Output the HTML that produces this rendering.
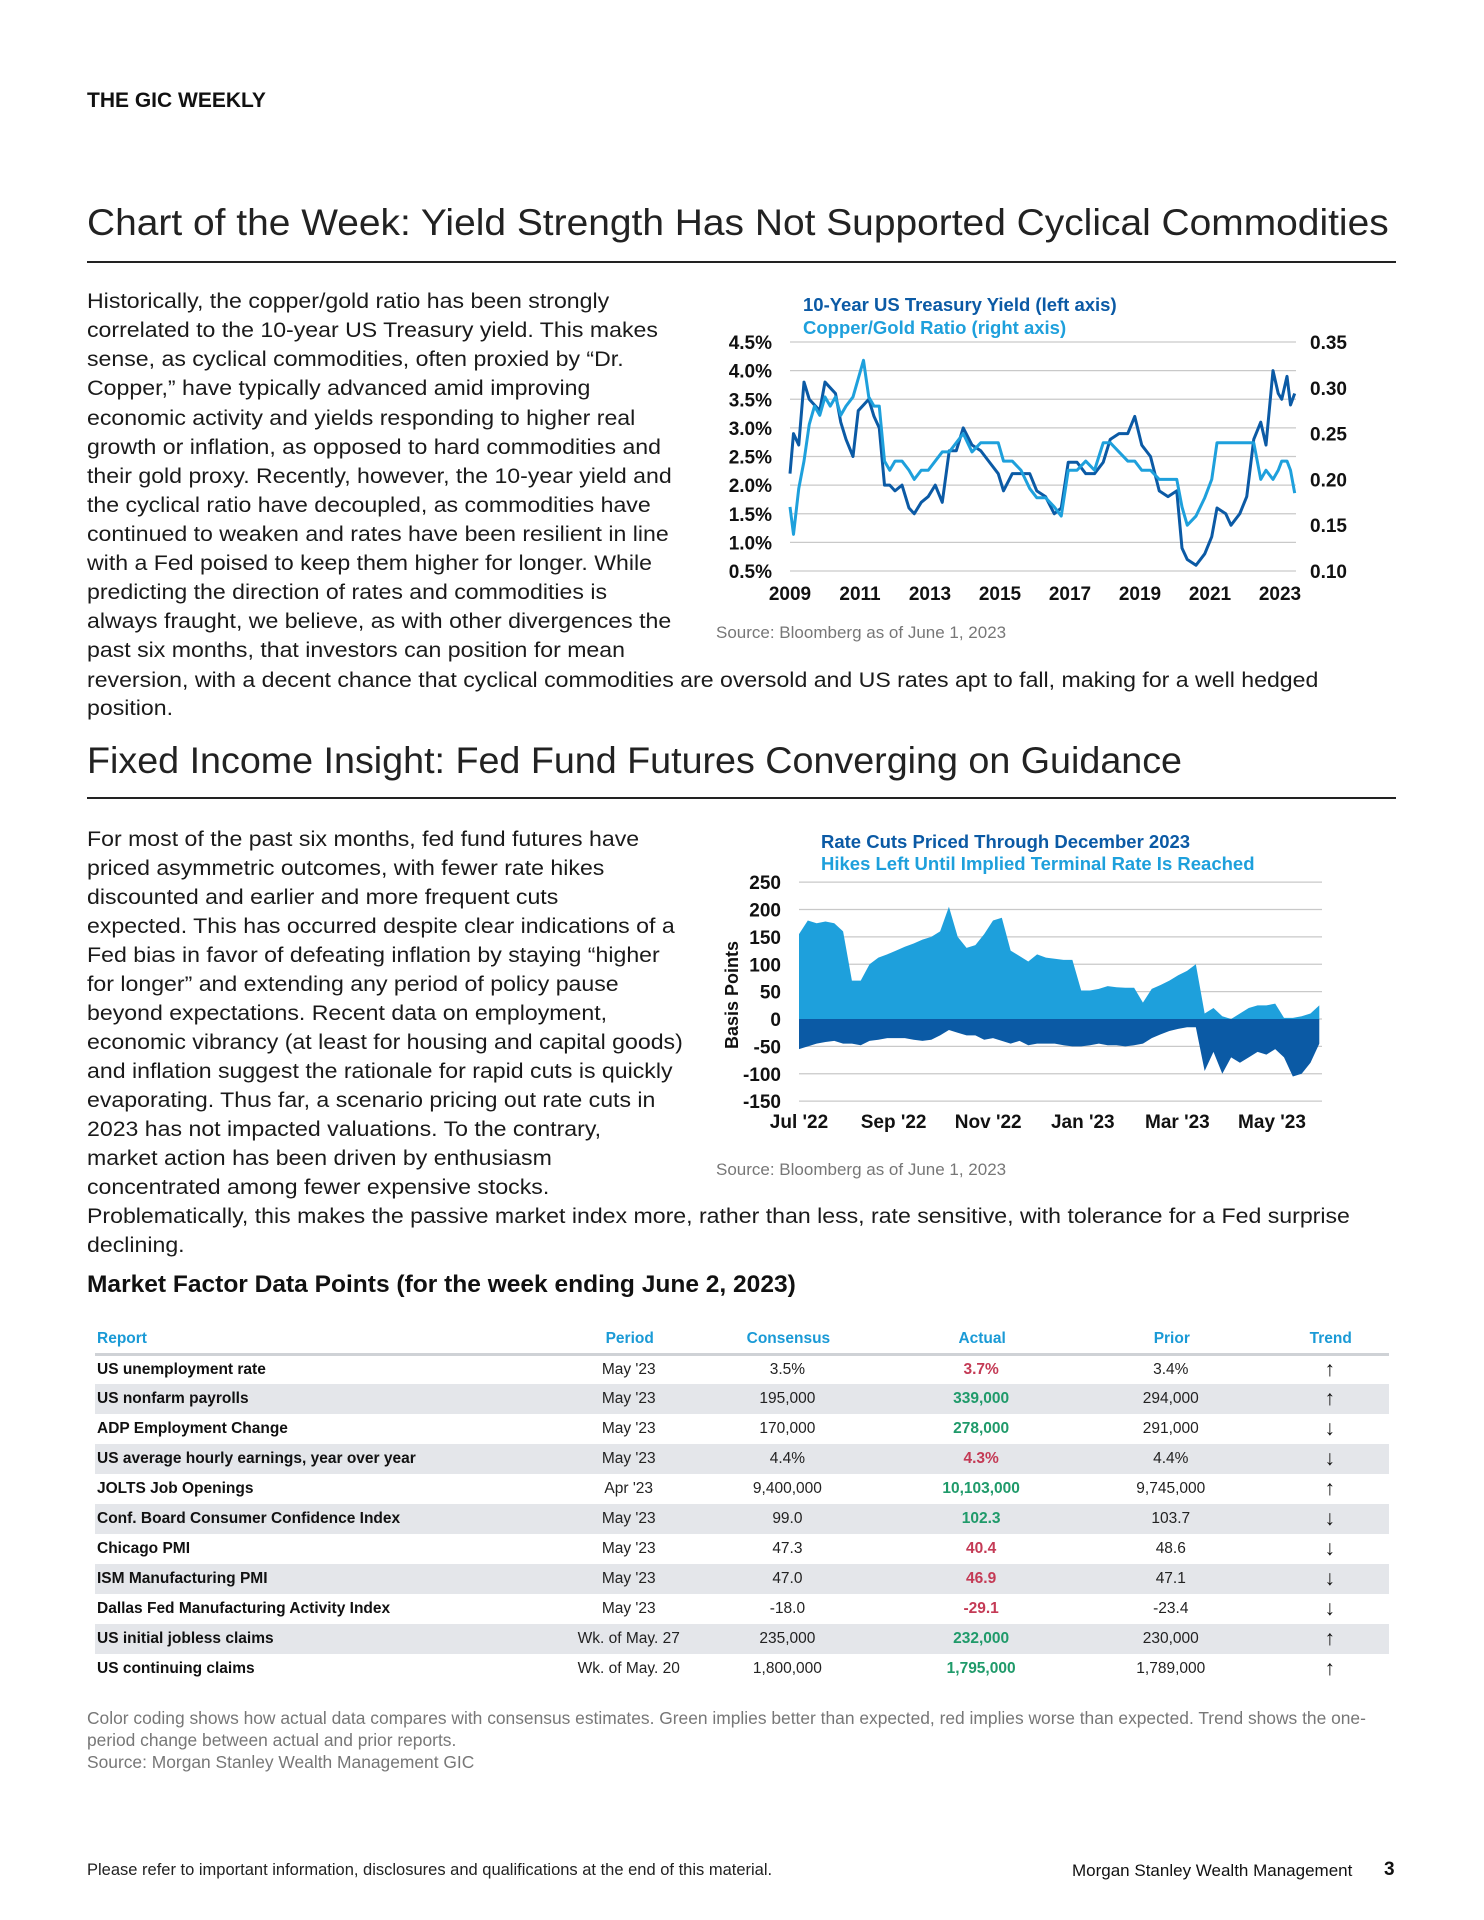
<!DOCTYPE html>
<html><head><meta charset="utf-8">
<style>
body{margin:0;background:#fff;}
#page{position:relative;width:1484px;height:1920px;overflow:hidden;font-family:"Liberation Sans",sans-serif;color:#111;}
.abs{position:absolute;white-space:nowrap;}
.ln{position:absolute;left:87px;white-space:nowrap;font-size:21px;line-height:29px;color:#1a1a1a;transform:scaleX(1.1);transform-origin:0 0;}
h1,h2,h3{margin:0;font-weight:normal;}
.rule{position:absolute;left:87px;width:1309px;height:2px;background:#222;}
.src{position:absolute;font-size:17px;color:#777;white-space:nowrap;}
table{border-collapse:collapse;}
</style></head>
<body>
<div id="page">
<div class="abs" style="left:87px;top:89px;font-size:21px;font-weight:bold;">THE GIC WEEKLY</div>

<h1 class="abs" style="left:87px;top:202px;font-size:37px;color:#222;transform:scaleX(1.052);transform-origin:0 0;">Chart of the Week: Yield Strength Has Not Supported Cyclical Commodities</h1>
<div class="rule" style="top:261px"></div>

<div>
<div class="ln" style="top:287px">Historically, the copper/gold ratio has been strongly</div>
<div class="ln" style="top:316px">correlated to the 10-year US Treasury yield. This makes</div>
<div class="ln" style="top:345px">sense, as cyclical commodities, often proxied by “Dr.</div>
<div class="ln" style="top:374px">Copper,” have typically advanced amid improving</div>
<div class="ln" style="top:404px">economic activity and yields responding to higher real</div>
<div class="ln" style="top:433px">growth or inflation, as opposed to hard commodities and</div>
<div class="ln" style="top:462px">their gold proxy. Recently, however, the 10-year yield and</div>
<div class="ln" style="top:491px">the cyclical ratio have decoupled, as commodities have</div>
<div class="ln" style="top:520px">continued to weaken and rates have been resilient in line</div>
<div class="ln" style="top:549px">with a Fed poised to keep them higher for longer. While</div>
<div class="ln" style="top:578px">predicting the direction of rates and commodities is</div>
<div class="ln" style="top:607px">always fraught, we believe, as with other divergences the</div>
<div class="ln" style="top:636px">past six months, that investors can position for mean</div>
<div class="ln" style="top:666px">reversion, with a decent chance that cyclical commodities are oversold and US rates apt to fall, making for a well hedged</div>
<div class="ln" style="top:694px">position.</div>
</div>

<h2 class="abs" style="left:87px;top:740px;font-size:37px;color:#222;transform:scaleX(1.018);transform-origin:0 0;">Fixed Income Insight: Fed Fund Futures Converging on Guidance</h2>
<div class="rule" style="top:797px"></div>

<div>
<div class="ln" style="top:825px">For most of the past six months, fed fund futures have</div>
<div class="ln" style="top:854px">priced asymmetric outcomes, with fewer rate hikes</div>
<div class="ln" style="top:883px">discounted and earlier and more frequent cuts</div>
<div class="ln" style="top:912px">expected. This has occurred despite clear indications of a</div>
<div class="ln" style="top:941px">Fed bias in favor of defeating inflation by staying “higher</div>
<div class="ln" style="top:970px">for longer” and extending any period of policy pause</div>
<div class="ln" style="top:999px">beyond expectations. Recent data on employment,</div>
<div class="ln" style="top:1028px">economic vibrancy (at least for housing and capital goods)</div>
<div class="ln" style="top:1057px">and inflation suggest the rationale for rapid cuts is quickly</div>
<div class="ln" style="top:1086px">evaporating. Thus far, a scenario pricing out rate cuts in</div>
<div class="ln" style="top:1115px">2023 has not impacted valuations. To the contrary,</div>
<div class="ln" style="top:1144px">market action has been driven by enthusiasm</div>
<div class="ln" style="top:1173px">concentrated among fewer expensive stocks.</div>
<div class="ln" style="top:1202px">Problematically, this makes the passive market index more, rather than less, rate sensitive, with tolerance for a Fed surprise</div>
<div class="ln" style="top:1231px">declining.</div>
</div>

<div class="src" style="left:716px;top:623px">Source: Bloomberg as of June 1, 2023</div>
<div class="src" style="left:716px;top:1160px">Source: Bloomberg as of June 1, 2023</div>

<svg id="charts" class="abs" style="left:0;top:0" width="1484" height="1920"></svg>

<h3 class="abs" style="left:87px;top:1271px;font-size:24px;font-weight:bold;color:#111;transform:scaleX(1.022);transform-origin:0 0;">Market Factor Data Points (for the week ending June 2, 2023)</h3>

<table id="tbl" class="abs" style="left:95px;top:1326px;width:1294px;font-size:15.5px;"></table>

<div class="abs" style="left:87px;top:1707px;font-size:17.4px;line-height:22px;color:#777;white-space:normal;width:1310px;">Color coding shows how actual data compares with consensus estimates. Green implies better than expected, red implies worse than expected. Trend shows the one-period change between actual and prior reports.<br>Source: Morgan Stanley Wealth Management GIC</div>

<div class="abs" style="left:87px;top:1861px;font-size:16.5px;color:#222;">Please refer to important information, disclosures and qualifications at the end of this material.</div>
<div class="abs" style="left:1072px;top:1861px;font-size:17px;color:#111;">Morgan Stanley Wealth Management</div>
<div class="abs" style="left:1384px;top:1859px;font-size:19px;font-weight:bold;color:#111;">3</div>
</div>

<script>
// ---------- Chart 1 data ----------
const c1Dates = [2009.0,2009.1,2009.25,2009.4,2009.55,2009.7,2009.85,2010.0,2010.15,2010.3,2010.45,2010.6,2010.8,2010.95,2011.1,2011.25,2011.4,2011.55,2011.7,2011.85,2012.0,2012.2,2012.4,2012.55,2012.75,2012.95,2013.15,2013.35,2013.55,2013.75,2013.95,2014.2,2014.45,2014.7,2014.95,2015.1,2015.35,2015.6,2015.85,2016.05,2016.3,2016.55,2016.75,2016.95,2017.2,2017.45,2017.7,2017.95,2018.15,2018.4,2018.65,2018.85,2019.05,2019.3,2019.55,2019.8,2020.05,2020.2,2020.35,2020.6,2020.85,2021.05,2021.2,2021.45,2021.6,2021.85,2022.05,2022.25,2022.45,2022.6,2022.8,2022.95,2023.05,2023.2,2023.3,2023.42];
const yieldVals = [2.2,2.9,2.7,3.8,3.5,3.4,3.3,3.8,3.7,3.6,3.1,2.8,2.5,3.3,3.4,3.5,3.2,3.0,2.0,2.0,1.9,2.0,1.6,1.5,1.7,1.8,2.0,1.7,2.6,2.6,3.0,2.7,2.6,2.4,2.2,1.9,2.2,2.2,2.2,1.9,1.8,1.5,1.6,2.4,2.4,2.2,2.2,2.4,2.8,2.9,2.9,3.2,2.7,2.5,1.9,1.8,1.9,0.9,0.7,0.6,0.8,1.1,1.6,1.5,1.3,1.5,1.8,2.8,3.1,2.7,4.0,3.6,3.5,3.9,3.4,3.6];
const ratioVals = [0.17,0.14,0.19,0.22,0.26,0.28,0.27,0.29,0.28,0.29,0.27,0.28,0.29,0.31,0.33,0.29,0.28,0.28,0.22,0.21,0.22,0.22,0.21,0.20,0.21,0.21,0.22,0.23,0.23,0.24,0.25,0.23,0.24,0.24,0.24,0.22,0.22,0.21,0.19,0.18,0.18,0.17,0.16,0.21,0.21,0.22,0.21,0.24,0.24,0.23,0.22,0.22,0.21,0.21,0.20,0.20,0.20,0.17,0.15,0.16,0.18,0.20,0.24,0.24,0.24,0.24,0.24,0.24,0.20,0.21,0.20,0.21,0.22,0.22,0.21,0.185];
const c1LeftTicks = ["0.5%","1.0%","1.5%","2.0%","2.5%","3.0%","3.5%","4.0%","4.5%"];
const c1LeftVals = [0.5,1.0,1.5,2.0,2.5,3.0,3.5,4.0,4.5];
const c1RightTicks = ["0.10","0.15","0.20","0.25","0.30","0.35"];
const c1RightVals = [0.10,0.15,0.20,0.25,0.30,0.35];
const c1Years = [2009,2011,2013,2015,2017,2019,2021,2023];

// ---------- Chart 2 data ----------
const c2Start = 0; // months since Jul 2022
const c2End = 11;
const hikesVals = [155,180,175,178,175,160,70,70,100,112,118,125,132,138,145,150,160,205,150,130,135,155,180,185,125,115,105,118,112,110,108,108,52,52,55,60,58,57,57,30,55,62,70,80,88,100,10,20,5,0,10,20,25,25,28,2,2,5,10,25];
const cutsVals = [-55,-50,-45,-42,-40,-45,-45,-48,-40,-38,-35,-35,-35,-38,-40,-38,-30,-20,-25,-30,-30,-38,-35,-40,-45,-40,-48,-45,-45,-45,-48,-50,-50,-48,-45,-48,-48,-50,-48,-45,-35,-28,-22,-18,-15,-15,-95,-60,-100,-70,-80,-70,-60,-65,-55,-70,-105,-100,-80,-45];
const c2YTicks = ["-150","-100","-50","0","50","100","150","200","250"];
const c2YVals = [-150,-100,-50,0,50,100,150,200,250];
const c2XTicks = ["Jul '22","Sep '22","Nov '22","Jan '23","Mar '23","May '23"];
const c2XMonths = [0,2,4,6,8,10];

// ---------- Table data ----------
const rows = [
 ["US unemployment rate","May '23","3.5%","3.7%","3.4%","up","r"],
 ["US nonfarm payrolls","May '23","195,000","339,000","294,000","up","g"],
 ["ADP Employment Change","May '23","170,000","278,000","291,000","down","g"],
 ["US average hourly earnings, year over year","May '23","4.4%","4.3%","4.4%","down","r"],
 ["JOLTS Job Openings","Apr '23","9,400,000","10,103,000","9,745,000","up","g"],
 ["Conf. Board Consumer Confidence Index","May '23","99.0","102.3","103.7","down","g"],
 ["Chicago PMI","May '23","47.3","40.4","48.6","down","r"],
 ["ISM Manufacturing PMI","May '23","47.0","46.9","47.1","down","r"],
 ["Dallas Fed Manufacturing Activity Index","May '23","-18.0","-29.1","-23.4","down","r"],
 ["US initial jobless claims","Wk. of May. 27","235,000","232,000","230,000","up","g"],
 ["US continuing claims","Wk. of May. 20","1,800,000","1,795,000","1,789,000","up","g"]
];

const NS="http://www.w3.org/2000/svg";
const svg=document.getElementById('charts');
function mk(tag,attrs,parent){const e=document.createElementNS(NS,tag);for(const k in attrs)e.setAttribute(k,attrs[k]);(parent||svg).appendChild(e);return e;}
function txt(s,attrs,parent){const e=mk('text',attrs,parent);e.textContent=s;return e;}

// Chart 1
const c1=mk('g',{});


const x1=y=>790+(y-2009)*(1280-790)/14;
const yL=v=>571-(v-0.5)*(571-342)/4;
const yR=v=>571-(v-0.10)*(571-342)/0.25;
c1LeftVals.forEach((v,i)=>{
  const g=mk('line',{x1:790,x2:1296,y1:yL(v),y2:yL(v),stroke:'#c9c9c9','stroke-width':1.3},c1);
  
  
  const t=txt(c1LeftTicks[i],{x:772,y:yL(v)+7,'text-anchor':'end','font-size':19,'font-weight':'bold',fill:'#111'},c1);
  
  
});
c1RightVals.forEach((v,i)=>{
  const t=txt(c1RightTicks[i],{x:1310,y:yR(v)+7,'font-size':19,'font-weight':'bold',fill:'#111'},c1);
  
  
});
c1Years.forEach(y=>{
  const t=txt(String(y),{x:x1(y),y:600,'text-anchor':'middle','font-size':19,'font-weight':'bold',fill:'#111'},c1);
  
  
});
const ly=mk('polyline',{points:c1Dates.map((d,i)=>x1(d)+','+yL(yieldVals[i])).join(' '),fill:'none',stroke:'#0b5aa5','stroke-width':3,'stroke-linejoin':'round'},c1);


const lr=mk('polyline',{points:c1Dates.map((d,i)=>x1(d)+','+yR(ratioVals[i])).join(' '),fill:'none',stroke:'#1ea0dc','stroke-width':3,'stroke-linejoin':'round'},c1);


const t1=txt('10-Year US Treasury Yield (left axis)',{x:803,y:311,'font-size':18.5,'font-weight':'bold',fill:'#0b5aa5'},c1);


const t2=txt('Copper/Gold Ratio (right axis)',{x:803,y:334,'font-size':18.5,'font-weight':'bold',fill:'#1ea0dc'},c1);



// Chart 2
const c2=mk('g',{});


const x2=m=>799+m*(1272-799)/10;
const y2=v=>1019-v*(1101-882)/400;
c2YVals.forEach((v,i)=>{
  const g=mk('line',{x1:799,x2:1322,y1:y2(v),y2:y2(v),stroke:'#c9c9c9','stroke-width':1.3},c2);
  
  
  const t=txt(c2YTicks[i],{x:781,y:y2(v)+7,'text-anchor':'end','font-size':19,'font-weight':'bold',fill:'#111'},c2);
  
  
});
c2XMonths.forEach((m,i)=>{
  const t=txt(c2XTicks[i],{x:x2(m),y:1128,'text-anchor':'middle','font-size':19,'font-weight':'bold',fill:'#111'},c2);
  
  
});
function area(vals,color,name){
  const n=vals.length;const pts=vals.map((v,i)=>x2(c2Start+i*(c2End-c2Start)/(n-1))+','+y2(v));
  const p=mk('polygon',{points:x2(c2Start)+','+y2(0)+' '+pts.join(' ')+' '+x2(c2End)+','+y2(0),fill:color},c2);
  
  
}
area(hikesVals,'#1ea0dc','hikes-area');
area(cutsVals,'#0b5aa5','cuts-area');
const yt=txt('Basis Points',{x:0,y:0,'text-anchor':'middle','font-size':18,'font-weight':'bold',fill:'#111',transform:'translate(738,995) rotate(-90)'},c2);


const t3=txt('Rate Cuts Priced Through December 2023',{x:821,y:848,'font-size':18.5,'font-weight':'bold',fill:'#0b5aa5'},c2);


const t4=txt('Hikes Left Until Implied Terminal Rate Is Reached',{x:821,y:870,'font-size':18.5,'font-weight':'bold',fill:'#1ea0dc'},c2);



// Table
const tbl=document.getElementById('tbl');
const heads=["Report","Period","Consensus","Actual","Prior","Trend"];
const widths=[480,108,208,180,200,118];
let h='<tr style="height:28px;border-bottom:3px solid #cfd2d6">';
heads.forEach((t,i)=>{h+='<th style="width:'+widths[i]+'px;color:#1a9ad6;font-weight:bold;font-size:15.5px;text-align:'+(i==0?'left':'center')+';padding:0 0 0 2px">'+t+'</th>';});
h+='</tr>';
rows.forEach((r,k)=>{
  const bg=k%2==1?'#e4e6ea':'#fff';
  const col=r[6]=='g'?'#1f9a6a':'#c43a55';
  h+='<tr style="height:30px;background:'+bg+'">';
  h+='<td style="font-weight:bold;padding-left:2px">'+r[0]+'</td>';
  h+='<td style="text-align:center;color:#222">'+r[1]+'</td>';
  h+='<td style="text-align:center;color:#222">'+r[2]+'</td>';
  h+='<td style="text-align:center;color:'+col+';font-weight:bold">'+r[3]+'</td>';
  h+='<td style="text-align:center;color:#222">'+r[4]+'</td>';
  h+='<td style="text-align:center;font-weight:bold;font-size:21px;line-height:20px">'+(r[5]=='up'?'↑':'↓')+'</td>';
  h+='</tr>';
});
tbl.innerHTML=h;
</script>
</body></html>
